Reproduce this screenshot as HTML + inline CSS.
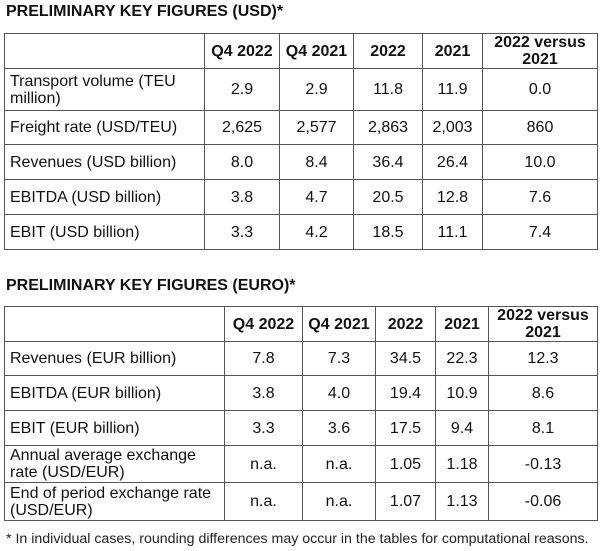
<!DOCTYPE html>
<html><head><style>
body{margin:0;width:600px;height:551px;background:#fff;font-family:"Liberation Sans",Arial,sans-serif;color:#111;position:relative;overflow:hidden}
.t{position:absolute;left:6px;font-weight:bold;font-size:16px}
table{position:absolute;border-collapse:collapse;table-layout:fixed;font-size:16px}
td{border:1px solid #555;padding:0 5px;text-align:center;line-height:17px;overflow:hidden;white-space:nowrap}
td:first-child{text-align:left}
tr.h td{font-weight:bold}
.f{position:absolute;left:6px;top:531px;font-size:14.2px;color:#222;white-space:nowrap}
</style></head><body>
<div class="t" style="top:3px">PRELIMINARY KEY FIGURES (USD)*</div>
<table style="left:4px;top:33px;width:593px">
<colgroup><col style="width:200px"><col style="width:75px"><col style="width:74px"><col style="width:69px"><col style="width:60px"><col style="width:115px"></colgroup>
<tr class="h" style="height:35px"><td></td><td>Q4 2022</td><td>Q4 2021</td><td>2022</td><td>2021</td><td>2022 versus<br>2021</td></tr>
<tr style="height:42px"><td>Transport volume (TEU<br>million)</td><td>2.9</td><td>2.9</td><td>11.8</td><td>11.9</td><td>0.0</td></tr>
<tr style="height:34px"><td>Freight rate (USD/TEU)</td><td>2,625</td><td>2,577</td><td>2,863</td><td>2,003</td><td>860</td></tr>
<tr style="height:35px"><td>Revenues (USD billion)</td><td>8.0</td><td>8.4</td><td>36.4</td><td>26.4</td><td>10.0</td></tr>
<tr style="height:35px"><td>EBITDA (USD billion)</td><td>3.8</td><td>4.7</td><td>20.5</td><td>12.8</td><td>7.6</td></tr>
<tr style="height:35px"><td>EBIT (USD billion)</td><td>3.3</td><td>4.2</td><td>18.5</td><td>11.1</td><td>7.4</td></tr>
</table>
<div class="t" style="top:277px">PRELIMINARY KEY FIGURES (EURO)*</div>
<table style="left:4px;top:306px;width:593px">
<colgroup><col style="width:220px"><col style="width:78px"><col style="width:73px"><col style="width:60px"><col style="width:53px"><col style="width:109px"></colgroup>
<tr class="h" style="height:35px"><td></td><td>Q4 2022</td><td>Q4 2021</td><td>2022</td><td>2021</td><td>2022 versus<br>2021</td></tr>
<tr style="height:34px"><td>Revenues (EUR billion)</td><td>7.8</td><td>7.3</td><td>34.5</td><td>22.3</td><td>12.3</td></tr>
<tr style="height:35px"><td>EBITDA (EUR billion)</td><td>3.8</td><td>4.0</td><td>19.4</td><td>10.9</td><td>8.6</td></tr>
<tr style="height:35px"><td>EBIT (EUR billion)</td><td>3.3</td><td>3.6</td><td>17.5</td><td>9.4</td><td>8.1</td></tr>
<tr style="height:37px"><td>Annual average exchange<br>rate (USD/EUR)</td><td>n.a.</td><td>n.a.</td><td>1.05</td><td>1.18</td><td>-0.13</td></tr>
<tr style="height:38px"><td>End of period exchange rate<br>(USD/EUR)</td><td>n.a.</td><td>n.a.</td><td>1.07</td><td>1.13</td><td>-0.06</td></tr>
</table>
<div class="f">* In individual cases, rounding differences may occur in the tables for computational reasons.</div>
</body></html>
